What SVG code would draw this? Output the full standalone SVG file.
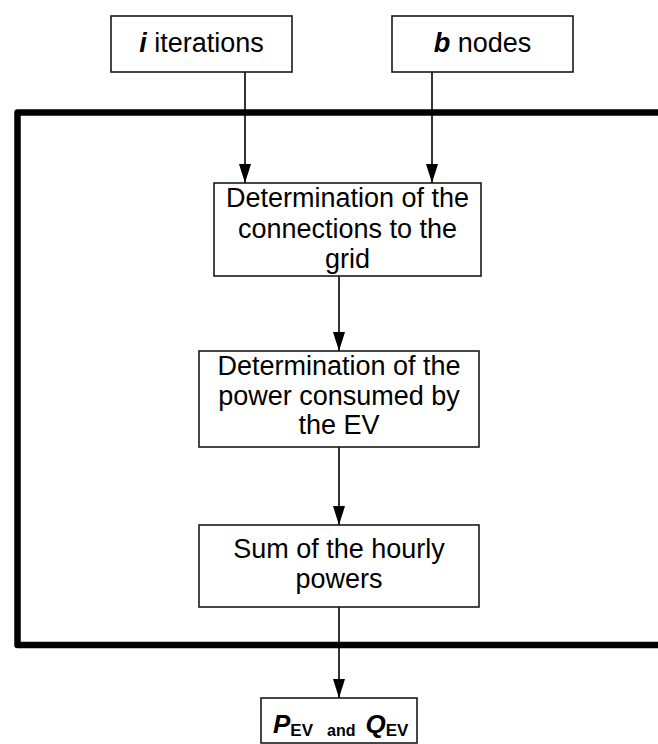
<svg xmlns="http://www.w3.org/2000/svg" width="658" height="744" viewBox="0 0 658 744">
<style>
.box{fill:#fff;stroke:#1a1a1a;stroke-width:1.6}
.t{font-family:"Liberation Sans",Arial,sans-serif;font-size:27px;fill:#000;text-anchor:middle}
.o{font-family:"Liberation Sans",Arial,sans-serif;font-size:26px;font-weight:bold;fill:#000;text-anchor:start}
.c{stroke:#000;stroke-width:1.6;fill:none}
</style>
<defs>
<marker id="ah" markerUnits="userSpaceOnUse" markerWidth="20" markerHeight="13" refX="19" refY="6" orient="auto">
<path d="M0,0 L19,6 L0,12 z" fill="#000"/>
</marker>
</defs>
<g id="frame">
<path d="M658,112.5 H17.5 V645 H658" fill="none" stroke="#000" stroke-width="6.5" stroke-linejoin="round"/>
</g>
<g id="connectors">
<line class="c" x1="245" y1="72" x2="245" y2="183" marker-end="url(#ah)"/>
<line class="c" x1="432" y1="72" x2="432" y2="183" marker-end="url(#ah)"/>
<line class="c" x1="339" y1="276" x2="339" y2="351" marker-end="url(#ah)"/>
<line class="c" x1="339" y1="447" x2="339" y2="525" marker-end="url(#ah)"/>
<line class="c" x1="339" y1="607" x2="339" y2="698" marker-end="url(#ah)"/>
</g>
<g id="n-iterations">
<rect class="box" x="111" y="16" width="181" height="56"/>
<text class="t" x="201.5" y="52"><tspan font-weight="bold" font-style="italic">i</tspan> iterations</text>
</g>
<g id="n-nodes">
<rect class="box" x="392" y="16" width="181" height="56"/>
<text class="t" x="482.5" y="52"><tspan font-weight="bold" font-style="italic">b</tspan> nodes</text>
</g>
<g id="n-connections">
<rect class="box" x="214" y="183" width="267" height="93"/>
<text class="t" x="347.5" y="207">Determination of the</text>
<text class="t" x="347.5" y="237.5">connections to the</text>
<text class="t" x="347.5" y="268">grid</text>
</g>
<g id="n-power">
<rect class="box" x="199" y="351" width="280" height="96"/>
<text class="t" x="339" y="375">Determination of the</text>
<text class="t" x="339" y="404.5">power consumed by</text>
<text class="t" x="339" y="434">the EV</text>
</g>
<g id="n-sum">
<rect class="box" x="199" y="525" width="280" height="82"/>
<text class="t" x="339" y="558">Sum of the hourly</text>
<text class="t" x="339" y="588">powers</text>
</g>
<g id="n-output">
<rect class="box" x="261" y="698" width="156" height="45"/>
<text class="o" x="273" y="733"><tspan font-style="italic">P</tspan><tspan style="font-size:17px" dy="3">EV</tspan><tspan style="font-size:16px" dx="14">and</tspan><tspan font-style="italic" dy="-3" dx="10">Q</tspan><tspan style="font-size:17px" dy="3">EV</tspan></text>
</g>
</svg>
